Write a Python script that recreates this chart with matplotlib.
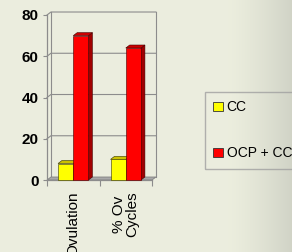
import numpy as np
import matplotlib
matplotlib.use("Agg")
import matplotlib.pyplot as plt
from matplotlib.patches import Rectangle, Polygon, Patch

plt.rcParams['font.family'] = ['Liberation Sans', 'DejaVu Sans']

categories = ['Ovulation', '% Ov\nCycles']
series = ['CC', 'OCP + CC']
cc_vals = [8, 10]
ocp_vals = [70, 64]
yticks = [0, 20, 40, 60, 80]

front_cols = ['#FFFF00', '#FF0000']
top_cols = ['#CCC200', '#CC0000']
side_cols = ['#B3AA00', '#A00000']

fig = plt.figure(figsize=(2.92, 2.52), dpi=100)

# background gradient
bg = fig.add_axes([0, 0, 1, 1], zorder=-5)
xs = np.linspace(0, 1, 292)
t = np.clip((xs - 0.78) / 0.22, 0, 1) ** 1.3
c0 = np.array([0.925, 0.933, 0.871])
c1 = np.array([0.82, 0.83, 0.78])
grad = c0[None, :] * (1 - t[:, None]) + c1[None, :] * t[:, None]
bg.imshow(grad[None, :, :], aspect='auto', extent=[0, 1, 0, 1])
bg.axis('off')

ax = fig.add_axes([47/292, 1-180/252, 105/292, 165/252])
ax.set_facecolor('none')
ax.set_xlim(0, 2)
ax.set_ylim(0, 80)
for s in ax.spines.values():
    s.set_visible(False)

dx = 0.075
dy = 1.45
gcol = '#8C8C8C'

# back wall and grid
for y in yticks[1:]:
    ax.plot([0, dx, 2 + dx], [y, y + dy, y + dy], color=gcol, lw=0.8, clip_on=False, zorder=1)
ax.plot([dx, dx], [dy, 80 + dy], color=gcol, lw=0.8, clip_on=False, zorder=1)
ax.plot([2 + dx, 2 + dx], [dy, 80 + dy], color=gcol, lw=0.8, clip_on=False, zorder=1)
# floor
ax.add_patch(Polygon([[0, 0], [2, 0], [2 + dx, dy], [dx, dy]], closed=True,
                     facecolor='#A8A8A8', edgecolor='#808080', lw=0.6, clip_on=False, zorder=1))
# left axis
ax.plot([0, 0], [0, 80], color=gcol, lw=0.9, clip_on=False, zorder=2)
ax.plot([0, 2], [0, 0], color=gcol, lw=0.9, clip_on=False, zorder=2)

# bars
w = 0.29
centers = [0.5, 1.5]
for i, vals in enumerate([cc_vals, ocp_vals]):
    ec = '#333300' if i == 0 else '#400000'
    for c, h in zip(centers, vals):
        x0 = c - w + i * w
        x1 = x0 + w
        ax.add_patch(Polygon([[x1, 0], [x1 + dx, dy], [x1 + dx, h + dy], [x1, h]], closed=True,
                             facecolor=side_cols[i], edgecolor=ec, lw=0.4, clip_on=False, zorder=3 + i))
        ax.add_patch(Polygon([[x0, h], [x1, h], [x1 + dx, h + dy], [x0 + dx, h + dy]], closed=True,
                             facecolor=top_cols[i], edgecolor=ec, lw=0.4, clip_on=False, zorder=3 + i))
        ax.add_patch(Rectangle((x0, 0), w, h, facecolor=front_cols[i], edgecolor=ec,
                               lw=0.4, clip_on=False, zorder=3 + i))

ax.set_yticks(yticks)
ax.set_yticklabels([str(v) for v in yticks], fontsize=11, fontweight='bold')
ax.tick_params(axis='y', length=3, color=gcol, pad=3)
ax.set_xticks([0, 1, 2])
ax.set_xticklabels([])
ax.tick_params(axis='x', length=4, color=gcol, direction='out')
for c, lab in zip(centers, categories):
    ax.text(c, -5.5, lab, rotation=90, ha='center', va='top', fontsize=11,
            multialignment='center', linespacing=1.0, clip_on=False)

handles = [Patch(facecolor=front_cols[i], edgecolor='#333333', lw=0.6, label=series[i]) for i in range(2)]
fig.legend(handles=handles, loc='upper left', bbox_to_anchor=(205/292, 1-92/252),
           fontsize=10, frameon=True, fancybox=False, edgecolor='#A0A0A0', facecolor='none',
           handlelength=0.7, handleheight=0.7, handletextpad=0.25, labelspacing=2.3,
           borderpad=0.6, borderaxespad=0)

fig.savefig('out.png', dpi=100)
